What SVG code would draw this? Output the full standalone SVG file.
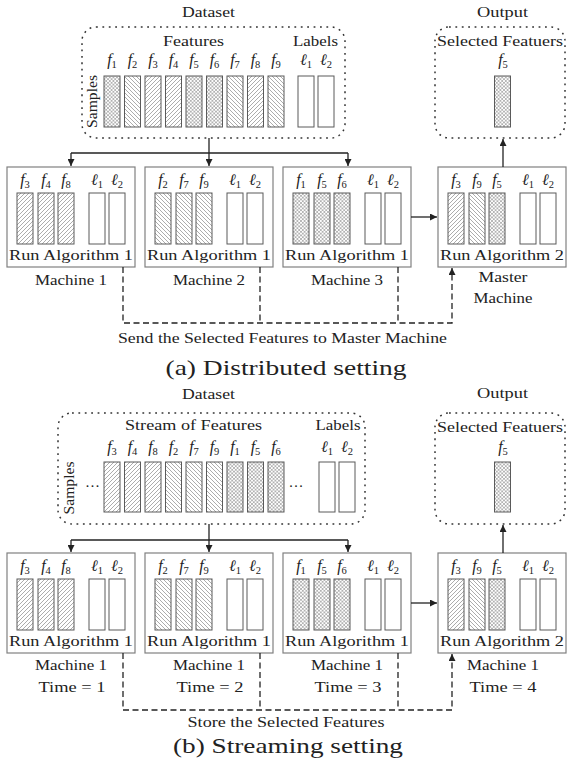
<svg xmlns="http://www.w3.org/2000/svg" width="568" height="769" viewBox="0 0 568 769">
<style>
text{font-family:"Liberation Serif","Times New Roman",serif;fill:#222;font-size:15px;text-anchor:middle}
.it{font-style:italic;font-size:16px}
.sub{font-size:10.5px;font-style:normal}
.box{fill:#fff;stroke:#808080;stroke-width:1.2}
.dot{fill:none;stroke:#333;stroke-width:1.5;stroke-dasharray:1.8 4.6}
.bar{stroke:#5a5a5a;stroke-width:1}
.lab{fill:#fff;stroke:#5a5a5a;stroke-width:1}
.up{fill:url(#up)}
.dn{fill:url(#dn)}
.cr{fill:url(#cr)}
.con{fill:none;stroke:#222;stroke-width:1.3}
.dash{fill:none;stroke:#222;stroke-width:1.3;stroke-dasharray:6 3.5}
.cap{font-size:21px}
</style>
<defs>
<pattern id="up" patternUnits="userSpaceOnUse" width="4" height="4"><rect width="4" height="4" fill="#fff"/><path d="M-1,1 l2,-2 M0,4 l4,-4 M3,5 l2,-2" stroke="#888" stroke-width="0.7"/></pattern>
<pattern id="dn" patternUnits="userSpaceOnUse" width="4" height="4"><rect width="4" height="4" fill="#fff"/><path d="M-1,3 l2,2 M0,0 l4,4 M3,-1 l2,2" stroke="#888" stroke-width="0.7"/></pattern>
<pattern id="cr" patternUnits="userSpaceOnUse" width="3.6" height="3.6"><rect width="3.6" height="3.6" fill="#fff"/><path d="M-1,1 l2,-2 M0,3.6 l3.6,-3.6 M2.6,4.6 l2,-2 M-1,2.6 l2,2 M0,0 l3.6,3.6 M2.6,-1 l2,2" stroke="#8a8a8a" stroke-width="0.6"/></pattern>
<marker id="ah" markerWidth="8" markerHeight="7" refX="7" refY="3.5" orient="auto" markerUnits="userSpaceOnUse"><path d="M0,0 L7,3.5 L0,7 z" fill="#222"/></marker>
</defs>

<!-- ===== (a) Distributed setting ===== -->
<g id="a-dataset">
<text x="208.5" y="16.5" textLength="53" lengthAdjust="spacingAndGlyphs">Dataset</text>
<rect class="dot" x="82" y="27" width="263" height="111" rx="14"/>
<text x="193.5" y="46" textLength="61" lengthAdjust="spacingAndGlyphs">Features</text>
<text x="315.5" y="46" textLength="45" lengthAdjust="spacingAndGlyphs">Labels</text>
<text transform="translate(97,101.5) rotate(-90)" textLength="53" lengthAdjust="spacingAndGlyphs">Samples</text>
<text x="112" y="65"><tspan class="it">f</tspan><tspan class="sub" dy="3">1</tspan></text>
<text x="132.5" y="65"><tspan class="it">f</tspan><tspan class="sub" dy="3">2</tspan></text>
<text x="153" y="65"><tspan class="it">f</tspan><tspan class="sub" dy="3">3</tspan></text>
<text x="173.5" y="65"><tspan class="it">f</tspan><tspan class="sub" dy="3">4</tspan></text>
<text x="194" y="65"><tspan class="it">f</tspan><tspan class="sub" dy="3">5</tspan></text>
<text x="214.5" y="65"><tspan class="it">f</tspan><tspan class="sub" dy="3">6</tspan></text>
<text x="235" y="65"><tspan class="it">f</tspan><tspan class="sub" dy="3">7</tspan></text>
<text x="255.5" y="65"><tspan class="it">f</tspan><tspan class="sub" dy="3">8</tspan></text>
<text x="276" y="65"><tspan class="it">f</tspan><tspan class="sub" dy="3">9</tspan></text>
<text x="306" y="65"><tspan class="it">ℓ</tspan><tspan class="sub" dy="3">1</tspan></text>
<text x="326" y="65"><tspan class="it">ℓ</tspan><tspan class="sub" dy="3">2</tspan></text>
<rect class="bar cr" x="104" y="76" width="16" height="51"/>
<rect class="bar dn" x="124.5" y="76" width="16" height="51"/>
<rect class="bar up" x="145" y="76" width="16" height="51"/>
<rect class="bar up" x="165.5" y="76" width="16" height="51"/>
<rect class="bar cr" x="186" y="76" width="16" height="51"/>
<rect class="bar cr" x="206.5" y="76" width="16" height="51"/>
<rect class="bar dn" x="227" y="76" width="16" height="51"/>
<rect class="bar up" x="247.5" y="76" width="16" height="51"/>
<rect class="bar dn" x="268" y="76" width="16" height="51"/>
<rect class="lab" x="298" y="76" width="16" height="51"/>
<rect class="lab" x="318" y="76" width="16" height="51"/>
</g>

<g id="a-output">
<text x="502.5" y="16.5" textLength="51" lengthAdjust="spacingAndGlyphs">Output</text>
<rect class="dot" x="435" y="27" width="130" height="111" rx="14"/>
<text x="500" y="46" textLength="126" lengthAdjust="spacingAndGlyphs">Selected Featuers</text>
<text x="503" y="65"><tspan class="it">f</tspan><tspan class="sub" dy="3">5</tspan></text>
<rect class="bar cr" x="494.5" y="76" width="16" height="51"/>
</g>

<g id="a-machine1" transform="translate(7,167)">
<rect class="box" width="128" height="100"/>
<text x="18" y="18"><tspan class="it">f</tspan><tspan class="sub" dy="3">3</tspan></text>
<text x="39" y="18"><tspan class="it">f</tspan><tspan class="sub" dy="3">4</tspan></text>
<text x="59" y="18"><tspan class="it">f</tspan><tspan class="sub" dy="3">8</tspan></text>
<text x="90" y="18"><tspan class="it">ℓ</tspan><tspan class="sub" dy="3">1</tspan></text>
<text x="110" y="18"><tspan class="it">ℓ</tspan><tspan class="sub" dy="3">2</tspan></text>
<rect class="bar up" x="10" y="26" width="16" height="51"/>
<rect class="bar up" x="31" y="26" width="16" height="51"/>
<rect class="bar up" x="51" y="26" width="16" height="51"/>
<rect class="lab" x="82" y="26" width="16" height="51"/>
<rect class="lab" x="102" y="26" width="16" height="51"/>
<text x="64" y="93" textLength="124" lengthAdjust="spacingAndGlyphs">Run Algorithm 1</text>
<text x="64" y="118" textLength="72" lengthAdjust="spacingAndGlyphs">Machine 1</text>
</g>

<g id="a-machine2" transform="translate(145,167)">
<rect class="box" width="128" height="100"/>
<text x="18" y="18"><tspan class="it">f</tspan><tspan class="sub" dy="3">2</tspan></text>
<text x="39" y="18"><tspan class="it">f</tspan><tspan class="sub" dy="3">7</tspan></text>
<text x="59" y="18"><tspan class="it">f</tspan><tspan class="sub" dy="3">9</tspan></text>
<text x="90" y="18"><tspan class="it">ℓ</tspan><tspan class="sub" dy="3">1</tspan></text>
<text x="110" y="18"><tspan class="it">ℓ</tspan><tspan class="sub" dy="3">2</tspan></text>
<rect class="bar dn" x="10" y="26" width="16" height="51"/>
<rect class="bar dn" x="31" y="26" width="16" height="51"/>
<rect class="bar dn" x="51" y="26" width="16" height="51"/>
<rect class="lab" x="82" y="26" width="16" height="51"/>
<rect class="lab" x="102" y="26" width="16" height="51"/>
<text x="64" y="93" textLength="124" lengthAdjust="spacingAndGlyphs">Run Algorithm 1</text>
<text x="64" y="118" textLength="72" lengthAdjust="spacingAndGlyphs">Machine 2</text>
</g>

<g id="a-machine3" transform="translate(283,167)">
<rect class="box" width="128" height="100"/>
<text x="18" y="18"><tspan class="it">f</tspan><tspan class="sub" dy="3">1</tspan></text>
<text x="39" y="18"><tspan class="it">f</tspan><tspan class="sub" dy="3">5</tspan></text>
<text x="59" y="18"><tspan class="it">f</tspan><tspan class="sub" dy="3">6</tspan></text>
<text x="90" y="18"><tspan class="it">ℓ</tspan><tspan class="sub" dy="3">1</tspan></text>
<text x="110" y="18"><tspan class="it">ℓ</tspan><tspan class="sub" dy="3">2</tspan></text>
<rect class="bar cr" x="10" y="26" width="16" height="51"/>
<rect class="bar cr" x="31" y="26" width="16" height="51"/>
<rect class="bar cr" x="51" y="26" width="16" height="51"/>
<rect class="lab" x="82" y="26" width="16" height="51"/>
<rect class="lab" x="102" y="26" width="16" height="51"/>
<text x="64" y="93" textLength="124" lengthAdjust="spacingAndGlyphs">Run Algorithm 1</text>
<text x="64" y="118" textLength="72" lengthAdjust="spacingAndGlyphs">Machine 3</text>
</g>

<g id="a-master" transform="translate(438,167)">
<rect class="box" width="128" height="100"/>
<text x="18" y="18"><tspan class="it">f</tspan><tspan class="sub" dy="3">3</tspan></text>
<text x="39" y="18"><tspan class="it">f</tspan><tspan class="sub" dy="3">9</tspan></text>
<text x="59" y="18"><tspan class="it">f</tspan><tspan class="sub" dy="3">5</tspan></text>
<text x="90" y="18"><tspan class="it">ℓ</tspan><tspan class="sub" dy="3">1</tspan></text>
<text x="110" y="18"><tspan class="it">ℓ</tspan><tspan class="sub" dy="3">2</tspan></text>
<rect class="bar up" x="10" y="26" width="16" height="51"/>
<rect class="bar dn" x="31" y="26" width="16" height="51"/>
<rect class="bar cr" x="51" y="26" width="16" height="51"/>
<rect class="lab" x="82" y="26" width="16" height="51"/>
<rect class="lab" x="102" y="26" width="16" height="51"/>
<text x="64" y="93" textLength="124" lengthAdjust="spacingAndGlyphs">Run Algorithm 2</text>
<text x="65" y="115" textLength="49" lengthAdjust="spacingAndGlyphs">Master</text>
<text x="65" y="136" textLength="59" lengthAdjust="spacingAndGlyphs">Machine</text>
</g>

<g id="a-connectors">
<path class="con" d="M209,138 V166" marker-end="url(#ah)"/>
<path class="con" d="M71,153 H348"/>
<path class="con" d="M71,153 V166" marker-end="url(#ah)"/>
<path class="con" d="M348,153 V166" marker-end="url(#ah)"/>
<path class="con" d="M411,217 H437" marker-end="url(#ah)"/>
<path class="con" d="M503,167 V139" marker-end="url(#ah)"/>
<path class="dash" d="M123,267 V323 H452 V268" marker-end="url(#ah)"/>
<path class="dash" d="M260,267 V323"/>
<path class="dash" d="M398,267 V323"/>
</g>
<text x="282.5" y="343" textLength="329" lengthAdjust="spacingAndGlyphs">Send the Selected Features to Master Machine</text>
<text class="cap" x="286" y="375" textLength="241" lengthAdjust="spacingAndGlyphs">(a) Distributed setting</text>

<!-- ===== (b) Streaming setting ===== -->
<g id="b-dataset">
<text x="208.5" y="399" textLength="53" lengthAdjust="spacingAndGlyphs">Dataset</text>
<rect class="dot" x="58" y="413" width="307" height="111" rx="14"/>
<text x="193.5" y="430" textLength="137" lengthAdjust="spacingAndGlyphs">Stream of Features</text>
<text x="338" y="430" textLength="45" lengthAdjust="spacingAndGlyphs">Labels</text>
<text transform="translate(74,488) rotate(-90)" textLength="53" lengthAdjust="spacingAndGlyphs">Samples</text>
<text x="92.5" y="491" textLength="15" lengthAdjust="spacing">···</text>
<text x="296" y="491" textLength="15" lengthAdjust="spacing">···</text>
<text x="112" y="452"><tspan class="it">f</tspan><tspan class="sub" dy="3">3</tspan></text>
<text x="132.5" y="452"><tspan class="it">f</tspan><tspan class="sub" dy="3">4</tspan></text>
<text x="153" y="452"><tspan class="it">f</tspan><tspan class="sub" dy="3">8</tspan></text>
<text x="173.5" y="452"><tspan class="it">f</tspan><tspan class="sub" dy="3">2</tspan></text>
<text x="194" y="452"><tspan class="it">f</tspan><tspan class="sub" dy="3">7</tspan></text>
<text x="214.5" y="452"><tspan class="it">f</tspan><tspan class="sub" dy="3">9</tspan></text>
<text x="235" y="452"><tspan class="it">f</tspan><tspan class="sub" dy="3">1</tspan></text>
<text x="255.5" y="452"><tspan class="it">f</tspan><tspan class="sub" dy="3">5</tspan></text>
<text x="276" y="452"><tspan class="it">f</tspan><tspan class="sub" dy="3">6</tspan></text>
<text x="327" y="452"><tspan class="it">ℓ</tspan><tspan class="sub" dy="3">1</tspan></text>
<text x="347" y="452"><tspan class="it">ℓ</tspan><tspan class="sub" dy="3">2</tspan></text>
<rect class="bar up" x="104" y="462" width="16" height="50"/>
<rect class="bar up" x="124.5" y="462" width="16" height="50"/>
<rect class="bar up" x="145" y="462" width="16" height="50"/>
<rect class="bar dn" x="165.5" y="462" width="16" height="50"/>
<rect class="bar dn" x="186" y="462" width="16" height="50"/>
<rect class="bar dn" x="206.5" y="462" width="16" height="50"/>
<rect class="bar cr" x="227" y="462" width="16" height="50"/>
<rect class="bar cr" x="247.5" y="462" width="16" height="50"/>
<rect class="bar cr" x="268" y="462" width="16" height="50"/>
<rect class="lab" x="319" y="462" width="16" height="50"/>
<rect class="lab" x="339" y="462" width="16" height="50"/>
</g>

<g id="b-output">
<text x="502.5" y="398" textLength="51" lengthAdjust="spacingAndGlyphs">Output</text>
<rect class="dot" x="435" y="413" width="130" height="111" rx="14"/>
<text x="500" y="432" textLength="126" lengthAdjust="spacingAndGlyphs">Selected Featuers</text>
<text x="503" y="452"><tspan class="it">f</tspan><tspan class="sub" dy="3">5</tspan></text>
<rect class="bar cr" x="494.5" y="462" width="16" height="50"/>
</g>

<g id="b-machine1" transform="translate(7,553)">
<rect class="box" width="128" height="100"/>
<text x="18" y="18"><tspan class="it">f</tspan><tspan class="sub" dy="3">3</tspan></text>
<text x="39" y="18"><tspan class="it">f</tspan><tspan class="sub" dy="3">4</tspan></text>
<text x="59" y="18"><tspan class="it">f</tspan><tspan class="sub" dy="3">8</tspan></text>
<text x="90" y="18"><tspan class="it">ℓ</tspan><tspan class="sub" dy="3">1</tspan></text>
<text x="110" y="18"><tspan class="it">ℓ</tspan><tspan class="sub" dy="3">2</tspan></text>
<rect class="bar up" x="10" y="26" width="16" height="51"/>
<rect class="bar up" x="31" y="26" width="16" height="51"/>
<rect class="bar up" x="51" y="26" width="16" height="51"/>
<rect class="lab" x="82" y="26" width="16" height="51"/>
<rect class="lab" x="102" y="26" width="16" height="51"/>
<text x="64" y="93" textLength="124" lengthAdjust="spacingAndGlyphs">Run Algorithm 1</text>
<text x="64" y="117" textLength="72" lengthAdjust="spacingAndGlyphs">Machine 1</text>
<text x="65" y="139" textLength="67" lengthAdjust="spacingAndGlyphs">Time = 1</text>
</g>

<g id="b-machine2" transform="translate(145,553)">
<rect class="box" width="128" height="100"/>
<text x="18" y="18"><tspan class="it">f</tspan><tspan class="sub" dy="3">2</tspan></text>
<text x="39" y="18"><tspan class="it">f</tspan><tspan class="sub" dy="3">7</tspan></text>
<text x="59" y="18"><tspan class="it">f</tspan><tspan class="sub" dy="3">9</tspan></text>
<text x="90" y="18"><tspan class="it">ℓ</tspan><tspan class="sub" dy="3">1</tspan></text>
<text x="110" y="18"><tspan class="it">ℓ</tspan><tspan class="sub" dy="3">2</tspan></text>
<rect class="bar dn" x="10" y="26" width="16" height="51"/>
<rect class="bar dn" x="31" y="26" width="16" height="51"/>
<rect class="bar dn" x="51" y="26" width="16" height="51"/>
<rect class="lab" x="82" y="26" width="16" height="51"/>
<rect class="lab" x="102" y="26" width="16" height="51"/>
<text x="64" y="93" textLength="124" lengthAdjust="spacingAndGlyphs">Run Algorithm 1</text>
<text x="64" y="117" textLength="72" lengthAdjust="spacingAndGlyphs">Machine 1</text>
<text x="65" y="139" textLength="67" lengthAdjust="spacingAndGlyphs">Time = 2</text>
</g>

<g id="b-machine3" transform="translate(283,553)">
<rect class="box" width="128" height="100"/>
<text x="18" y="18"><tspan class="it">f</tspan><tspan class="sub" dy="3">1</tspan></text>
<text x="39" y="18"><tspan class="it">f</tspan><tspan class="sub" dy="3">5</tspan></text>
<text x="59" y="18"><tspan class="it">f</tspan><tspan class="sub" dy="3">6</tspan></text>
<text x="90" y="18"><tspan class="it">ℓ</tspan><tspan class="sub" dy="3">1</tspan></text>
<text x="110" y="18"><tspan class="it">ℓ</tspan><tspan class="sub" dy="3">2</tspan></text>
<rect class="bar cr" x="10" y="26" width="16" height="51"/>
<rect class="bar cr" x="31" y="26" width="16" height="51"/>
<rect class="bar cr" x="51" y="26" width="16" height="51"/>
<rect class="lab" x="82" y="26" width="16" height="51"/>
<rect class="lab" x="102" y="26" width="16" height="51"/>
<text x="64" y="93" textLength="124" lengthAdjust="spacingAndGlyphs">Run Algorithm 1</text>
<text x="64" y="117" textLength="72" lengthAdjust="spacingAndGlyphs">Machine 1</text>
<text x="65" y="139" textLength="67" lengthAdjust="spacingAndGlyphs">Time = 3</text>
</g>

<g id="b-machine4" transform="translate(438,553)">
<rect class="box" width="128" height="100"/>
<text x="18" y="18"><tspan class="it">f</tspan><tspan class="sub" dy="3">3</tspan></text>
<text x="39" y="18"><tspan class="it">f</tspan><tspan class="sub" dy="3">9</tspan></text>
<text x="59" y="18"><tspan class="it">f</tspan><tspan class="sub" dy="3">5</tspan></text>
<text x="90" y="18"><tspan class="it">ℓ</tspan><tspan class="sub" dy="3">1</tspan></text>
<text x="110" y="18"><tspan class="it">ℓ</tspan><tspan class="sub" dy="3">2</tspan></text>
<rect class="bar up" x="10" y="26" width="16" height="51"/>
<rect class="bar dn" x="31" y="26" width="16" height="51"/>
<rect class="bar cr" x="51" y="26" width="16" height="51"/>
<rect class="lab" x="82" y="26" width="16" height="51"/>
<rect class="lab" x="102" y="26" width="16" height="51"/>
<text x="64" y="93" textLength="124" lengthAdjust="spacingAndGlyphs">Run Algorithm 2</text>
<text x="65" y="117" textLength="72" lengthAdjust="spacingAndGlyphs">Machine 1</text>
<text x="65" y="139" textLength="67" lengthAdjust="spacingAndGlyphs">Time = 4</text>
</g>

<g id="b-connectors">
<path class="con" d="M209,524 V552" marker-end="url(#ah)"/>
<path class="con" d="M71,540 H348"/>
<path class="con" d="M71,540 V552" marker-end="url(#ah)"/>
<path class="con" d="M348,540 V552" marker-end="url(#ah)"/>
<path class="con" d="M411,603 H437" marker-end="url(#ah)"/>
<path class="con" d="M503,553 V525" marker-end="url(#ah)"/>
<path class="dash" d="M123,653 V710 H452 V654" marker-end="url(#ah)"/>
<path class="dash" d="M260,653 V710"/>
<path class="dash" d="M398,653 V710"/>
</g>
<text x="286" y="727" textLength="197" lengthAdjust="spacingAndGlyphs">Store the Selected Features</text>
<text class="cap" x="288" y="753" textLength="230" lengthAdjust="spacingAndGlyphs">(b) Streaming setting</text>
</svg>
